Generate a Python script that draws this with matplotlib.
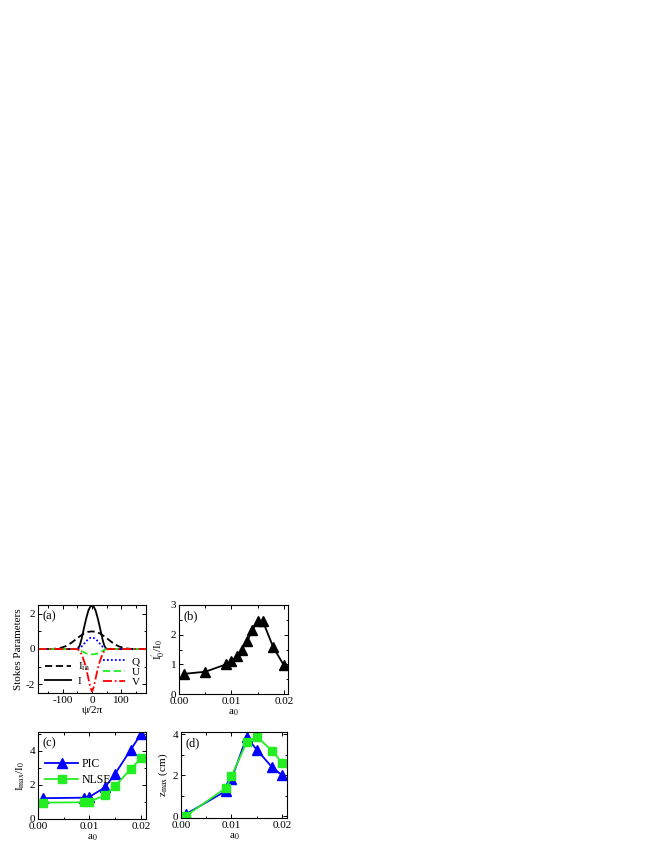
import matplotlib
matplotlib.use("Agg")
import matplotlib.pyplot as plt
from matplotlib.ticker import MultipleLocator, FormatStrFormatter

plt.rcParams['font.family'] = ['Liberation Serif', 'DejaVu Serif']
plt.rcParams['mathtext.fontset'] = 'stix'
plt.rcParams['font.size'] = 8
plt.rcParams['axes.unicode_minus'] = False

# ---- Panel (a) data: Stokes parameters vs psi/2pi ----
psi_in = [-185, -150, -130, -110, -90, -70, -50, -30, -15, 0, 15, 30, 50, 70, 90, 110, 130, 150, 185]
I_in = [0, 0, 0.01, 0.05, 0.16, 0.36, 0.62, 0.86, 0.97, 1.0, 0.97, 0.86, 0.62, 0.36, 0.16, 0.05, 0.01, 0, 0]

psi_n = [-185, -55, -48, -42, -36, -30, -24, -18, -12, -6, 0, 6, 12, 18, 24, 30, 36, 42, 48, 55, 185]
I_tot = [0, 0, 0.03, 0.2, 0.55, 1.0, 1.45, 1.85, 2.2, 2.4, 2.45, 2.4, 2.2, 1.85, 1.45, 1.0, 0.55, 0.2, 0.03, 0, 0]
Q = [0, 0, 0.01, 0.05, 0.13, 0.24, 0.36, 0.47, 0.57, 0.63, 0.65, 0.63, 0.57, 0.47, 0.36, 0.24, 0.13, 0.05, 0.01, 0, 0]
U = [0, 0, -0.01, -0.05, -0.11, -0.17, -0.22, -0.26, -0.28, -0.3, -0.3, -0.3, -0.28, -0.26, -0.22, -0.17, -0.11, -0.05, -0.01, 0, 0]
V = [0, 0, -0.03, -0.12, -0.3, -0.55, -0.85, -1.25, -1.7, -2.15, -2.42, -2.15, -1.7, -1.25, -0.85, -0.55, -0.3, -0.12, -0.03, 0, 0]

# ---- Panel (b) ----
a0_b = [0.001, 0.005, 0.009, 0.010, 0.011, 0.012, 0.013, 0.014, 0.015, 0.016, 0.018, 0.020]
ratio_b = [0.68, 0.75, 1.0, 1.1, 1.27, 1.5, 1.78, 2.15, 2.45, 2.45, 1.57, 0.97]

# ---- Panels (c), (d) ----
a0_cd = [0.001, 0.009, 0.010, 0.013, 0.015, 0.018, 0.020]
Imax_pic = [1.22, 1.25, 1.3, 1.85, 2.65, 4.05, 4.97]
Imax_nlse = [0.96, 0.98, 1.02, 1.38, 1.93, 2.92, 3.55]
zmax_pic = [0.11, 1.25, 1.8, 3.85, 3.24, 2.4, 2.0]
zmax_nlse = [0.03, 1.4, 1.95, 3.6, 3.88, 3.2, 2.6]

W, H = 664, 860
fig = plt.figure(figsize=(W / 100, H / 100), dpi=100)

def ax_at(l, t, r, b):
    return fig.add_axes([l / W, (H - b) / H, (r - l) / W, (b - t) / H])

def style(ax):
    ax.tick_params(which='both', direction='in', top=True, right=True,
                   labelsize=8, width=0.7, pad=2)
    ax.tick_params(which='major', length=3)
    ax.tick_params(which='minor', length=1.8)
    for s in ax.spines.values():
        s.set_linewidth(0.8)

blue = '#0000ff'
green = '#22ee22'
LW = 1.3

# (a)
ax = ax_at(38, 605, 146, 693)
l1, = ax.plot(psi_in, I_in, color='black', ls=(0, (4, 2)), lw=LW)
l2, = ax.plot(psi_n, I_tot, color='black', ls='-', lw=LW)
l3, = ax.plot(psi_n, Q, color=blue, ls=(0, (1, 1.2)), lw=LW)
l4, = ax.plot(psi_n, U, color=green, ls=(0, (4, 2)), lw=LW)
l5, = ax.plot(psi_n, V, color='red', ls=(0, (5, 1.5, 1, 1.5)), lw=LW)
ax.set_xlim(-185, 185)
ax.set_ylim(-2.5, 2.5)
ax.xaxis.set_major_locator(MultipleLocator(100))
ax.xaxis.set_minor_locator(MultipleLocator(50))
ax.yaxis.set_major_locator(MultipleLocator(2))
ax.yaxis.set_minor_locator(MultipleLocator(1))
ax.set_xlabel('ψ/2π', labelpad=1)
ax.set_ylabel('Stokes Parameters', labelpad=2)
ax.text(0.04, 0.94, '(a)', transform=ax.transAxes, va='top', ha='left', fontsize=9)
leg1 = ax.legend([l1, l2], [r'I$_{\rm in}$', 'I'], loc='lower left', frameon=False,
                 fontsize=8, handlelength=2.4, borderaxespad=0.2, labelspacing=0.3, handletextpad=0.6)
ax.add_artist(leg1)
ax.legend([l3, l4, l5], ['Q', 'U', 'V'], loc='lower right', frameon=False,
          fontsize=8, handlelength=2.0, borderaxespad=0.15, labelspacing=0.05, handletextpad=0.6)
style(ax)

# (b)
ax = ax_at(179, 605, 288, 694)
ax.plot(a0_b, ratio_b, color='black', lw=LW, marker='^', ms=7.5)
ax.set_xlim(0, 0.0208)
ax.set_ylim(0, 3)
ax.xaxis.set_major_locator(MultipleLocator(0.01))
ax.xaxis.set_minor_locator(MultipleLocator(0.005))
ax.xaxis.set_major_formatter(FormatStrFormatter('%.2f'))
ax.yaxis.set_major_locator(MultipleLocator(1))
ax.yaxis.set_minor_locator(MultipleLocator(0.5))
ax.set_xlabel(r'a$_0$', labelpad=1)
ax.set_ylabel(r"I$_0^{\prime}$/I$_0$", labelpad=2)
ax.text(0.04, 0.94, '(b)', transform=ax.transAxes, va='top', ha='left', fontsize=9)
style(ax)

# (c)
ax = ax_at(38, 732, 146, 819)
ax.plot(a0_cd, Imax_pic, color=blue, lw=LW, marker='^', ms=7.5, label='PIC')
ax.plot(a0_cd, Imax_nlse, color=green, lw=LW, marker='s', ms=6, label='NLSE')
ax.set_xlim(0, 0.021)
ax.set_ylim(0, 5.1)
ax.xaxis.set_major_locator(MultipleLocator(0.01))
ax.xaxis.set_minor_locator(MultipleLocator(0.005))
ax.xaxis.set_major_formatter(FormatStrFormatter('%.2f'))
ax.yaxis.set_major_locator(MultipleLocator(2))
ax.yaxis.set_minor_locator(MultipleLocator(1))
ax.set_xlabel(r'a$_0$', labelpad=1)
ax.set_ylabel(r'I$_{\rm max}$/I$_0$', labelpad=2)
ax.text(0.04, 0.94, '(c)', transform=ax.transAxes, va='top', ha='left', fontsize=9)
ax.legend(loc='upper left', bbox_to_anchor=(0.0, 0.78), frameon=False, fontsize=8.5,
          handlelength=2.8, borderaxespad=0.2, labelspacing=0.3, handletextpad=0.3)
style(ax)

# (d)
ax = ax_at(181, 732, 287, 818)
ax.plot(a0_cd, zmax_pic, color=blue, lw=LW, marker='^', ms=7.5)
ax.plot(a0_cd, zmax_nlse, color=green, lw=LW, marker='s', ms=6)
ax.set_xlim(0, 0.021)
ax.set_ylim(-0.08, 4.1)
ax.xaxis.set_major_locator(MultipleLocator(0.01))
ax.xaxis.set_minor_locator(MultipleLocator(0.005))
ax.xaxis.set_major_formatter(FormatStrFormatter('%.2f'))
ax.yaxis.set_major_locator(MultipleLocator(2))
ax.yaxis.set_minor_locator(MultipleLocator(1))
ax.set_xlabel(r'a$_0$', labelpad=1)
ax.set_ylabel(r'z$_{\rm max}$ (cm)', labelpad=2)
ax.text(0.04, 0.94, '(d)', transform=ax.transAxes, va='top', ha='left', fontsize=9)
style(ax)

fig.savefig('out.png', dpi=100)
